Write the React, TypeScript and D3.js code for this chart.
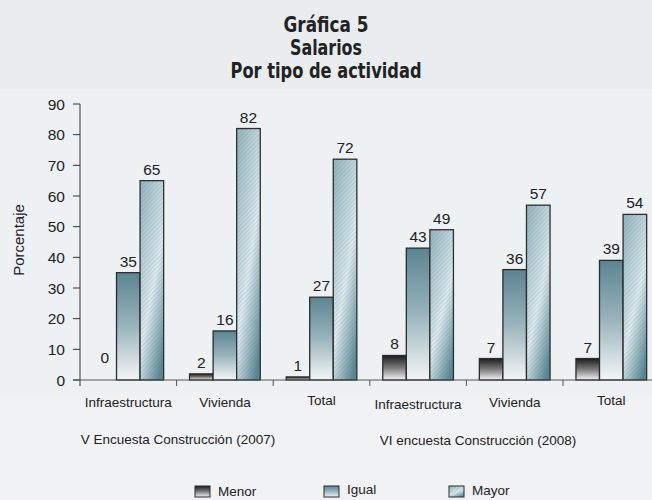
import React from "react";
import * as d3 from "d3";

const categories = ["Infraestructura", "Vivienda", "Total", "Infraestructura", "Vivienda", "Total"];
const seriesNames = ["Menor", "Igual", "Mayor"];
const menor = [0, 2, 1, 8, 7, 7];
const igual = [35, 16, 27, 43, 36, 39];
const mayor = [65, 82, 72, 49, 57, 54];
const yTicks = [0, 10, 20, 30, 40, 50, 60, 70, 80, 90];
const groupLabels = ["V Encuesta Construcción (2007)", "VI encuesta Construcción (2008)"];
const titleLines = ["Gráfica 5", "Salarios", "Por tipo de actividad"];

const W = 652;
const H = 500;
const FONT = "'Liberation Sans', Arial, sans-serif";

export default function App() {
  const values = [menor, igual, mayor];
  const idx = categories.map((_, i) => String(i));
  const x = d3.scaleBand<string>().domain(idx).range([80, 80 + 6 * 96.6]).paddingInner(0).paddingOuter(0);
  const xs = d3.scaleBand<string>().domain(seriesNames).range([0, x.bandwidth()]).paddingInner(0).paddingOuter(0.55);
  const y = d3.scaleLinear().domain([0, 90]).range([380, 104]);
  const fills = ["url(#gMenor)", "url(#gIgual)", "url(#gMayor)"];
  const catY = [407, 407, 405, 409, 407, 405];

  return (
    <svg width={W} height={H} style={{ position: "absolute", left: 0, top: 0, display: "block" }} fontFamily={FONT}>
      <defs>
        <linearGradient id="gMenor" x1="0" y1="0" x2="0" y2="1">
          <stop offset="0" stopColor="#1c1c1c" />
          <stop offset="0.5" stopColor="#7a7a7a" />
          <stop offset="1" stopColor="#f3f3f3" />
        </linearGradient>
        <linearGradient id="gIgual" x1="0" y1="0" x2="0" y2="1">
          <stop offset="0" stopColor="#5b8591" />
          <stop offset="0.5" stopColor="#9ab4bc" />
          <stop offset="1" stopColor="#f3f5f6" />
        </linearGradient>
        <linearGradient id="gMayor" x1="0.2" y1="0" x2="0.8" y2="1">
          <stop offset="0" stopColor="#9dbac3" />
          <stop offset="0.45" stopColor="#cfe0e5" />
          <stop offset="0.55" stopColor="#dfecf0" />
          <stop offset="1" stopColor="#5a8794" />
        </linearGradient>
        <pattern id="hatch" width="3" height="3" patternUnits="userSpaceOnUse" patternTransform="rotate(45)">
          <line x1="0.5" y1="0" x2="0.5" y2="3" stroke="#4d7784" strokeOpacity="0.2" strokeWidth="1" />
        </pattern>
      </defs>
      <rect x={0} y={0} width={W} height={H} fill="#eef1f4" />
      <rect x={0} y={0} width={W} height={89} fill="#e9edf0" />
      <rect x={0} y={395} width={W} height={H - 395} fill="#f0f2f4" />

      {titleLines.map((t, i) => (
        <text key={i} x={326} y={32 + i * 23} textAnchor="middle" fontSize={21} fontWeight="bold" fill="#222"
          fontFamily="'DejaVu Sans', sans-serif" textLength={[85, 72, 191][i]} lengthAdjust="spacingAndGlyphs">{t}</text>
      ))}

      {/* y axis */}
      <line x1={80} x2={80} y1={y(90)} y2={386} stroke="#333" strokeWidth={1} />
      {yTicks.map((t) => (
        <g key={t}>
          <line x1={73} x2={80} y1={y(t)} y2={y(t)} stroke="#333" />
          <text x={65} y={y(t) + 5.5} textAnchor="end" fontSize={15.5} fill="#222">{t}</text>
        </g>
      ))}
      <text transform={`translate(24,${240}) rotate(-90)`} textAnchor="middle" fontSize={15} fill="#222">Porcentaje</text>

      {/* bars */}
      {idx.map((k, i) => (
        <g key={k} transform={`translate(${x(k)},0)`}>
          {values.map((vals, s) => {
            const v = vals[i];
            const bx = xs(seriesNames[s])!;
            const bw = xs.bandwidth();
            const top = y(v);
            return (
              <g key={s}>
                {v > 0 && (
                  <>
                    <rect x={bx} y={top} width={bw} height={y(0) - top} fill={fills[s]} stroke="#2b2b2b" strokeWidth={1.3} />
                    {s === 2 && <rect x={bx} y={top} width={bw} height={y(0) - top} fill="url(#hatch)" />}
                  </>
                )}
                <text x={bx + bw / 2} y={v === 0 ? y(0) - 17 : top - 6} textAnchor="middle" fontSize={15.5} fill="#222">{v}</text>
              </g>
            );
          })}
        </g>
      ))}

      {/* x axis */}
      <line x1={73} x2={W} y1={y(0)} y2={y(0)} stroke="#555" strokeWidth={1} />
      {idx.slice(1).map((k) => (
        <line key={k} x1={x(k)!} x2={x(k)!} y1={y(0)} y2={y(0) + 6} stroke="#555" />
      ))}
      {categories.map((c, i) => (
        <text key={i} x={x(String(i))! + x.bandwidth() / 2} y={catY[i]} textAnchor="middle" fontSize={13.5} fill="#222">{c}</text>
      ))}
      <text x={178} y={444} textAnchor="middle" fontSize={13.5} fill="#222">{groupLabels[0]}</text>
      <text x={478} y={445} textAnchor="middle" fontSize={13.5} fill="#222">{groupLabels[1]}</text>

      {/* legend */}
      {seriesNames.map((n, s) => {
        const lx = [195, 324, 449][s];
        return (
          <g key={n}>
            <rect x={lx} y={486} width={15} height={11} fill={fills[s]} stroke="#2b2b2b" strokeWidth={1} />
            {s === 2 && <rect x={lx} y={486} width={15} height={11} fill="url(#hatch)" />}
            <text x={lx + 23} y={[496, 494, 495][s]} fontSize={13.5} fill="#222">{n}</text>
          </g>
        );
      })}
    </svg>
  );
}
